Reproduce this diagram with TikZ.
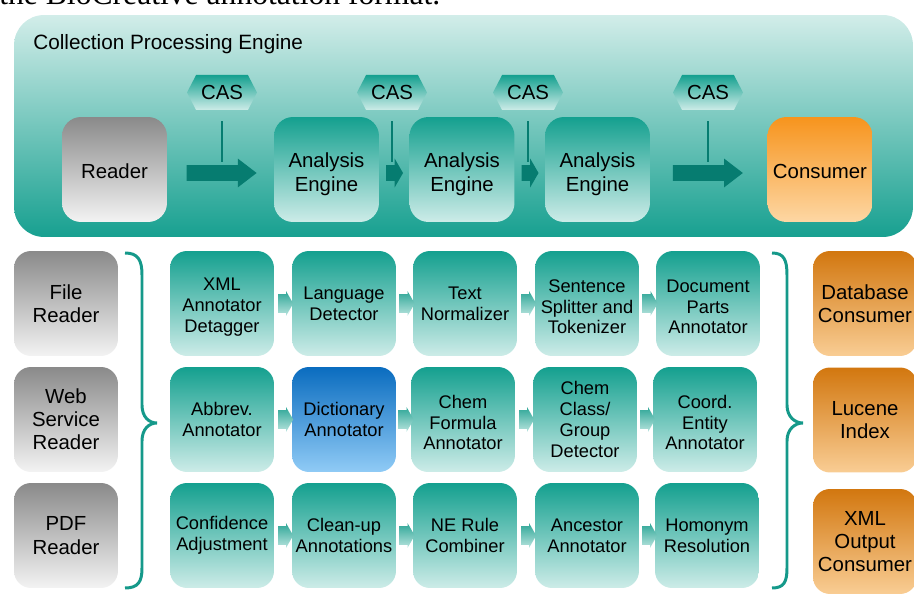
\documentclass[tikz,border=0pt]{standalone}
\usepackage{fontspec}
\setmainfont{Liberation Sans}
\newfontfamily\serifttl{Liberation Serif}
\usetikzlibrary{shapes.arrows,shapes.symbols,calc}
\definecolor{cpeTop}{HTML}{D2EDE9}
\definecolor{cpeMid}{HTML}{7CCBC0}
\definecolor{cpeBot}{HTML}{17A090}
\definecolor{tealTop}{HTML}{14A08F}
\definecolor{tealBot}{HTML}{CDECE8}
\definecolor{grayTop}{HTML}{8A8A8A}
\definecolor{grayBot}{HTML}{F3F3F3}
\definecolor{orTop}{HTML}{F7941D}
\definecolor{orBot}{HTML}{FDD7A4}
\definecolor{orTwoTop}{HTML}{D2770F}
\definecolor{orTwoBot}{HTML}{F9CD94}
\definecolor{blueTop}{HTML}{0A6CBF}
\definecolor{blueBot}{HTML}{90CBF6}
\definecolor{arrowDark}{HTML}{067C70}
\definecolor{braceCol}{HTML}{15998A}
\definecolor{smArrTop}{HTML}{2EA697}
\definecolor{smArrBot}{HTML}{B8E4DE}
\newcommand{\dropline}{\rule{0pt}{14pt}}
\begin{document}
\begin{tikzpicture}[x=0.02cm,y=-0.02cm,
  bigbox/.style={rectangle, rounded corners=0.38cm, minimum width=2.1cm, minimum height=2.1cm, inner sep=0pt, align=center, font=\fontsize{11.6}{13.4}\selectfont},
  smallbox/.style={rectangle, rounded corners=0.34cm, minimum width=2.08cm, minimum height=2.1cm, inner sep=0pt, align=center, font=\fontsize{10.4}{11.9}\selectfont},
  sidebox/.style={smallbox, font=\fontsize{11.6}{13.2}\selectfont},
  tealfill/.style={top color=tealTop, bottom color=tealBot},
  grayfill/.style={top color=grayTop, bottom color=grayBot},
  orfill/.style={top color=orTop, bottom color=orBot},
  ortwofill/.style={top color=orTwoTop, bottom color=orTwoBot},
  bluefill/.style={top color=blueTop, bottom color=blueBot},
  bigarrow/.style={single arrow, fill=arrowDark, minimum height=1.4cm, inner xsep=0pt, inner ysep=0.15cm, single arrow head extend=0.13cm, single arrow tip angle=75, single arrow head indent=0pt},
  shortarrow/.style={bigarrow, minimum height=0.34cm, single arrow tip angle=120},
  smarrow/.style={single arrow, top color=smArrTop, bottom color=smArrBot, minimum height=0.3cm, inner xsep=0pt, inner ysep=0.18cm, single arrow head extend=0.06cm, single arrow tip angle=120, single arrow head indent=0pt},
  casbox/.style={signal, signal to=east and west, signal pointer angle=125, minimum width=1.4cm, minimum height=0.7cm, inner sep=0pt, top color=tealTop, bottom color=tealBot, font=\fontsize{11.6}{13}\selectfont},
  casline/.style={draw=arrowDark, line width=1.7pt},
  bracestyle/.style={draw=braceCol, line width=1.7pt}
]
\path[use as bounding box] (0,0) rectangle (914,594);
\clip (0,0) rectangle (914,594);

% cut-off caption line
\node[anchor=base west, inner sep=0pt, font=\serifttl\fontsize{18}{20}\selectfont] (caption) at (-1,5) {the BioCreative annotation format.};

% Collection Processing Engine container
\node[rectangle, rounded corners=0.6cm, minimum width=17.98cm, minimum height=4.44cm, inner sep=0pt, top color=cpeTop, middle color=cpeMid, bottom color=cpeBot] (cpe) at (463.5,126) {};
\node[anchor=base west, inner sep=0pt, font=\fontsize{11.8}{14}\selectfont] (cpetitle) at (33,50) {Collection Processing Engine};

% top row
\node[bigbox, grayfill] (reader) at (114.5,169.5) {\rule{0pt}{10pt}Reader};
\node[bigbox, tealfill] (ae1) at (326.5,169.5) {\dropline Analysis\\Engine};
\node[bigbox, tealfill] (ae2) at (462,169.5) {\dropline Analysis\\Engine};
\node[bigbox, tealfill] (ae3) at (597.5,169.5) {\dropline Analysis\\Engine};
\node[bigbox, orfill] (consumer) at (820,169.5) {\rule{0pt}{10pt}Consumer};

\node[bigarrow] (a1) at ($(reader.east)!0.5!(ae1.west)+(-4,3.5)$) {};
\node[shortarrow] (a2) at ($(ae1.east)!0.5!(ae2.west)+(-2,3.5)$) {};
\node[shortarrow] (a3) at ($(ae2.east)!0.5!(ae3.west)+(-2,3.5)$) {};
\node[bigarrow] (a4) at ($(ae3.east)!0.5!(consumer.west)+(-6,3.5)$) {};

\node[casbox] (cas1) at (222,92.5) {CAS};
\node[casbox] (cas2) at (392,92.5) {CAS};
\node[casbox] (cas3) at (528,92.5) {CAS};
\node[casbox] (cas4) at (708,92.5) {CAS};

\foreach \c/\a in {cas1/a1,cas2/a2,cas3/a3,cas4/a4}{
  \draw[casline] ($(\c.south)+(0,11)$) -- ($(\c.south |- \a.north)+(0,-3)$);
}

% readers
\node[sidebox, grayfill] (fileR) at (66,303.5) {File\\Reader};
\node[sidebox, grayfill] (webR) at (66,419.5) {Web\\Service\\Reader};
\node[sidebox, grayfill] (pdfR) at (66,535.5) {PDF\\Reader};

% left brace
\draw[bracestyle] (125,253) .. controls (138,253) and (142,260) .. (142,275) -- (142,405)
  .. controls (142,417) and (149,423) .. (157,423)
  .. controls (149,423) and (142,429) .. (142,441) -- (142,568)
  .. controls (142,582) and (138,588) .. (125,588);

% annotator rows
\node[smallbox, tealfill] (r1c1) at (222,303.5) {\rule{0pt}{11pt}XML\\Annotator\\Detagger};
\node[smallbox, tealfill] (r1c2) at (344,303.5) {Language\\Detector};
\node[smallbox, tealfill] (r1c3) at (465,303.5) {Text\\Normalizer};
\node[smallbox, tealfill] (r1c4) at (587,303.5) {\rule{0pt}{11pt}Sentence\\Splitter and\\Tokenizer};
\node[smallbox, tealfill] (r1c5) at (708,303.5) {\rule{0pt}{11pt}Document\\Parts\\Annotator};

\node[smallbox, tealfill] (r2c1) at (222,419.5) {Abbrev.\\Annotator};
\node[smallbox, bluefill] (r2c2) at (344,419.5) {Dictionary\\Annotator};
\node[smallbox, tealfill] (r2c3) at (463,419.5) {\rule{0pt}{11pt}Chem\\Formula\\Annotator};
\node[smallbox, tealfill] (r2c4) at (585,419.5) {Chem\\Class/\\Group\\Detector};
\node[smallbox, tealfill] (r2c5) at (705,419.5) {\rule{0pt}{11pt}Coord.\\Entity\\Annotator};

\node[smallbox, tealfill] (r3c1) at (222,535.5) {Confidence\\Adjustment};
\node[smallbox, tealfill] (r3c2) at (344,535.5) {Clean-up\\Annotations};
\node[smallbox, tealfill] (r3c3) at (465,535.5) {NE Rule\\Combiner};
\node[smallbox, tealfill] (r3c4) at (587,535.5) {Ancestor\\Annotator};
\node[smallbox, tealfill] (r3c5) at (707,535.5) {Homonym\\Resolution};

\foreach \r in {1,2,3}{
  \foreach \p/\q in {1/2,2/3,3/4,4/5}{
    \node[smarrow] (s\r\p) at ($(r\r c\p.east)!0.5!(r\r c\q.west)$) {};
  }
}

% right brace
\draw[bracestyle] (772,253) .. controls (784,253) and (787,260) .. (787,275) -- (787,405)
  .. controls (787,417) and (795,423) .. (803,423)
  .. controls (795,423) and (787,429) .. (787,441) -- (787,568)
  .. controls (787,582) and (784,588) .. (772,588);

% consumers
\node[sidebox, ortwofill] (dbC) at (865,303.5) {Database\\Consumer};
\node[sidebox, ortwofill] (luc) at (865,420) {Lucene\\Index};
\node[sidebox, ortwofill] (xmlC) at (865,541.5) {XML\\Output\\Consumer};
\end{tikzpicture}
\end{document}
